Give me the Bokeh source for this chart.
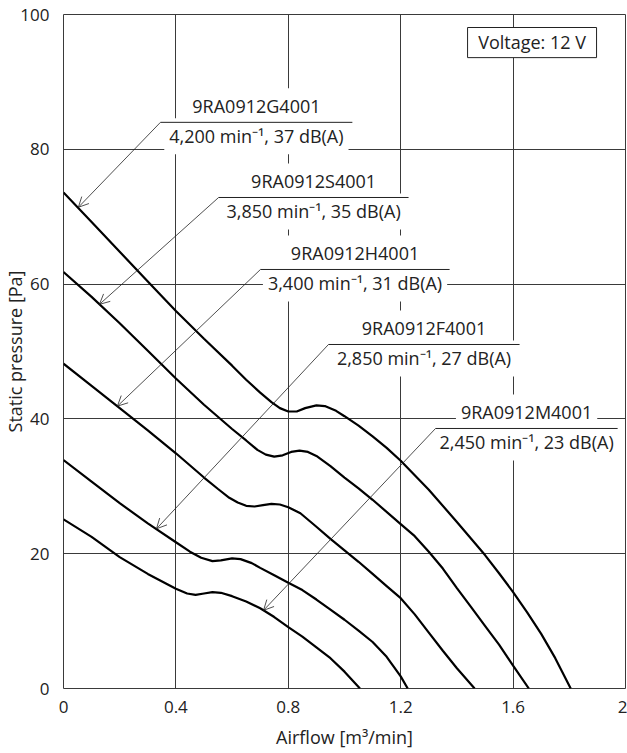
from bokeh.plotting import figure
from bokeh.models import ColumnDataSource, FixedTicker, Arrow, OpenHead
from bokeh.embed import file_html
from bokeh.resources import INLINE
from bokeh.core.properties import value

FONT = "Open Sans"
INK = "#222222"
GRID = "#3a3a3a"

# ---------------- data ----------------
models = ["9RA0912G4001", "9RA0912S4001", "9RA0912H4001", "9RA0912F4001", "9RA0912M4001"]
speeds = ["4,200", "3,850", "3,400", "2,850", "2,450"]
noise_db = [37, 35, 31, 27, 23]

flow_G = [0, 0.1, 0.2, 0.3, 0.4, 0.5, 0.6, 0.65, 0.7, 0.74, 0.77, 0.8, 0.83, 0.86, 0.9, 0.93, 0.97, 1.0, 1.05, 1.1, 1.15, 1.2, 1.3, 1.4, 1.5, 1.55, 1.6, 1.65, 1.7, 1.75, 1.805]
pres_G = [73.6, 69.2, 64.8, 60.4, 56.0, 51.9, 47.9, 45.8, 43.9, 42.5, 41.6, 41.1, 41.1, 41.6, 42.0, 41.9, 41.2, 40.4, 39.0, 37.4, 35.7, 33.8, 29.5, 24.7, 19.8, 17.1, 14.3, 11.3, 8.1, 4.5, 0]

flow_S = [0, 0.1, 0.2, 0.3, 0.4, 0.5, 0.6, 0.65, 0.69, 0.72, 0.75, 0.78, 0.81, 0.84, 0.87, 0.9, 0.95, 1.0, 1.05, 1.1, 1.2, 1.25, 1.3, 1.35, 1.4, 1.45, 1.5, 1.55, 1.6, 1.656]
pres_S = [61.8, 58.1, 54.2, 50.1, 46.0, 42.1, 38.5, 36.8, 35.4, 34.7, 34.4, 34.6, 35.1, 35.3, 35.1, 34.5, 33.0, 31.3, 29.7, 28.0, 24.4, 22.6, 20.3, 17.8, 14.9, 12.1, 9.3, 6.5, 3.4, 0]

flow_H = [0, 0.1, 0.2, 0.3, 0.4, 0.5, 0.55, 0.59, 0.62, 0.65, 0.68, 0.71, 0.74, 0.77, 0.8, 0.843, 0.9, 0.95, 1.0, 1.05, 1.1, 1.15, 1.2, 1.25, 1.3, 1.35, 1.4, 1.463]
pres_H = [48.2, 44.9, 41.6, 38.3, 34.9, 31.3, 29.6, 28.3, 27.6, 27.1, 27.0, 27.2, 27.4, 27.3, 26.9, 26.0, 24.0, 22.2, 20.5, 18.8, 17.0, 15.2, 13.4, 11.0, 8.3, 5.6, 3.0, 0]

flow_F = [0, 0.1, 0.2, 0.3, 0.4, 0.45, 0.49, 0.53, 0.56, 0.6, 0.63, 0.67, 0.7, 0.75, 0.8, 0.85, 0.9, 0.95, 1.0, 1.05, 1.1, 1.15, 1.2, 1.225]
pres_F = [33.9, 30.7, 27.5, 24.5, 21.7, 20.3, 19.4, 18.9, 19.0, 19.3, 19.2, 18.6, 17.9, 16.8, 15.7, 14.6, 13.2, 11.7, 10.2, 8.6, 6.9, 4.7, 1.8, 0]

flow_M = [0, 0.1, 0.2, 0.3, 0.4, 0.44, 0.47, 0.5, 0.53, 0.56, 0.6, 0.65, 0.7, 0.75, 0.8, 0.85, 0.9, 0.95, 1.0, 1.055]
pres_M = [25.1, 22.5, 19.5, 17.0, 14.8, 14.1, 13.9, 14.1, 14.3, 14.2, 13.7, 12.9, 11.9, 10.6, 9.1, 7.7, 6.1, 4.5, 2.5, 0]

x_ticks = [0, 0.4, 0.8, 1.2, 1.6, 2]
x_tick_labels = ["0", "0.4", "0.8", "1.2", "1.6", "2"]
y_ticks = [0, 20, 40, 60, 80, 100]

curves = [(flow_G, pres_G), (flow_S, pres_S), (flow_H, pres_H), (flow_F, pres_F), (flow_M, pres_M)]

# ---------------- layout of callouts (data units) ----------------
# underline y, underline x0, underline x1, arrow tip x, arrow tip y
callouts = [
    (84.0, 0.345, 1.028, 0.053, 71.4),
    (72.85, 0.552, 1.228, 0.128, 57.0),
    (62.17, 0.701, 1.374, 0.192, 41.9),
    (51.04, 0.943, 1.623, 0.331, 23.7),
    (38.58, 1.324, 1.972, 0.712, 11.6),
]

p = figure(width=627, height=753, x_range=(0, 2), y_range=(0, 100),
           output_backend="svg", toolbar_location=None,
           min_border_left=63, min_border_right=2, min_border_top=14, min_border_bottom=65)
p.background_fill_color = "white"
p.border_fill_color = "white"
p.outline_line_color = GRID
p.outline_line_width = 1

# axes
p.xaxis.ticker = FixedTicker(ticks=x_ticks)
p.xaxis.major_label_overrides = dict(zip(x_ticks, x_tick_labels))
p.yaxis.ticker = FixedTicker(ticks=y_ticks)
for ax in (p.xaxis, p.yaxis):
    ax.axis_line_color = None
    ax.major_tick_line_color = None
    ax.minor_tick_line_color = None
    ax.major_label_text_font = FONT
    ax.major_label_text_font_size = "17px"
    ax.major_label_text_color = INK
    ax.axis_label_text_font = FONT
    ax.axis_label_text_font_size = "18px"
    ax.axis_label_text_font_style = "normal"
    ax.axis_label_text_color = INK
p.xaxis.axis_label = "Airflow [m³/min]"
p.yaxis.axis_label = "Static pressure [Pa]"
p.xaxis.major_label_standoff = 6
p.yaxis.major_label_standoff = 8
p.xaxis.axis_label_standoff = 9
p.yaxis.axis_label_standoff = -10

# grid
p.xgrid.ticker = FixedTicker(ticks=x_ticks[1:-1])
p.ygrid.ticker = FixedTicker(ticks=y_ticks[1:-1])
for g in (p.xgrid, p.ygrid):
    g.grid_line_color = GRID
    g.grid_line_alpha = 1
    g.grid_line_width = 1

# callout texts with white boxes that break the grid
px_y = 100 / 674.0
top_src = ColumnDataSource(dict(
    x=[(c[1] + c[2]) / 2 for c in callouts],
    y=[c[0] + 16 * px_y for c in callouts],
    text=models))
bot_src = ColumnDataSource(dict(
    x=[(c[1] + c[2]) / 2 for c in callouts],
    y=[c[0] - 14 * px_y for c in callouts],
    text=[f"{s} min⁻¹, {d} dB(A)" for s, d in zip(speeds, noise_db)]))
for src in (top_src, bot_src):
    p.text(x="x", y="y", text="text", source=src, text_align="center",
           text_baseline="middle", text_font=value(FONT), text_font_size="18px",
           text_color=INK, background_fill_color="white",
           padding=dict(left=5, right=5, top=6, bottom=6))

# curves
for fx, fy in curves:
    p.line(fx, fy, line_color="black", line_width=2.2)

# underlines and leaders
p.segment(x0=[c[1] for c in callouts], y0=[c[0] for c in callouts],
          x1=[c[2] for c in callouts], y1=[c[0] for c in callouts],
          line_color=INK, line_width=1)
arr_src = ColumnDataSource(dict(
    xs=[c[1] for c in callouts], ys=[c[0] for c in callouts],
    xe=[c[3] for c in callouts], ye=[c[4] for c in callouts]))
p.add_layout(Arrow(end=OpenHead(size=10, line_width=0.8, line_color=INK),
                   x_start="xs", y_start="ys", x_end="xe", y_end="ye",
                   source=arr_src, line_color=INK, line_width=0.8))

# voltage box
p.quad(left=[1.438], right=[1.897], bottom=[93.6], top=[98.07],
       fill_color="white", line_color=INK, line_width=1)
p.text(x=[1.6675], y=[95.85], text=["Voltage: 12 V"], text_align="center",
       text_baseline="middle", text_font=value(FONT), text_font_size="18px",
       text_color=INK)

open("out.html", "w").write(file_html(p, INLINE))
